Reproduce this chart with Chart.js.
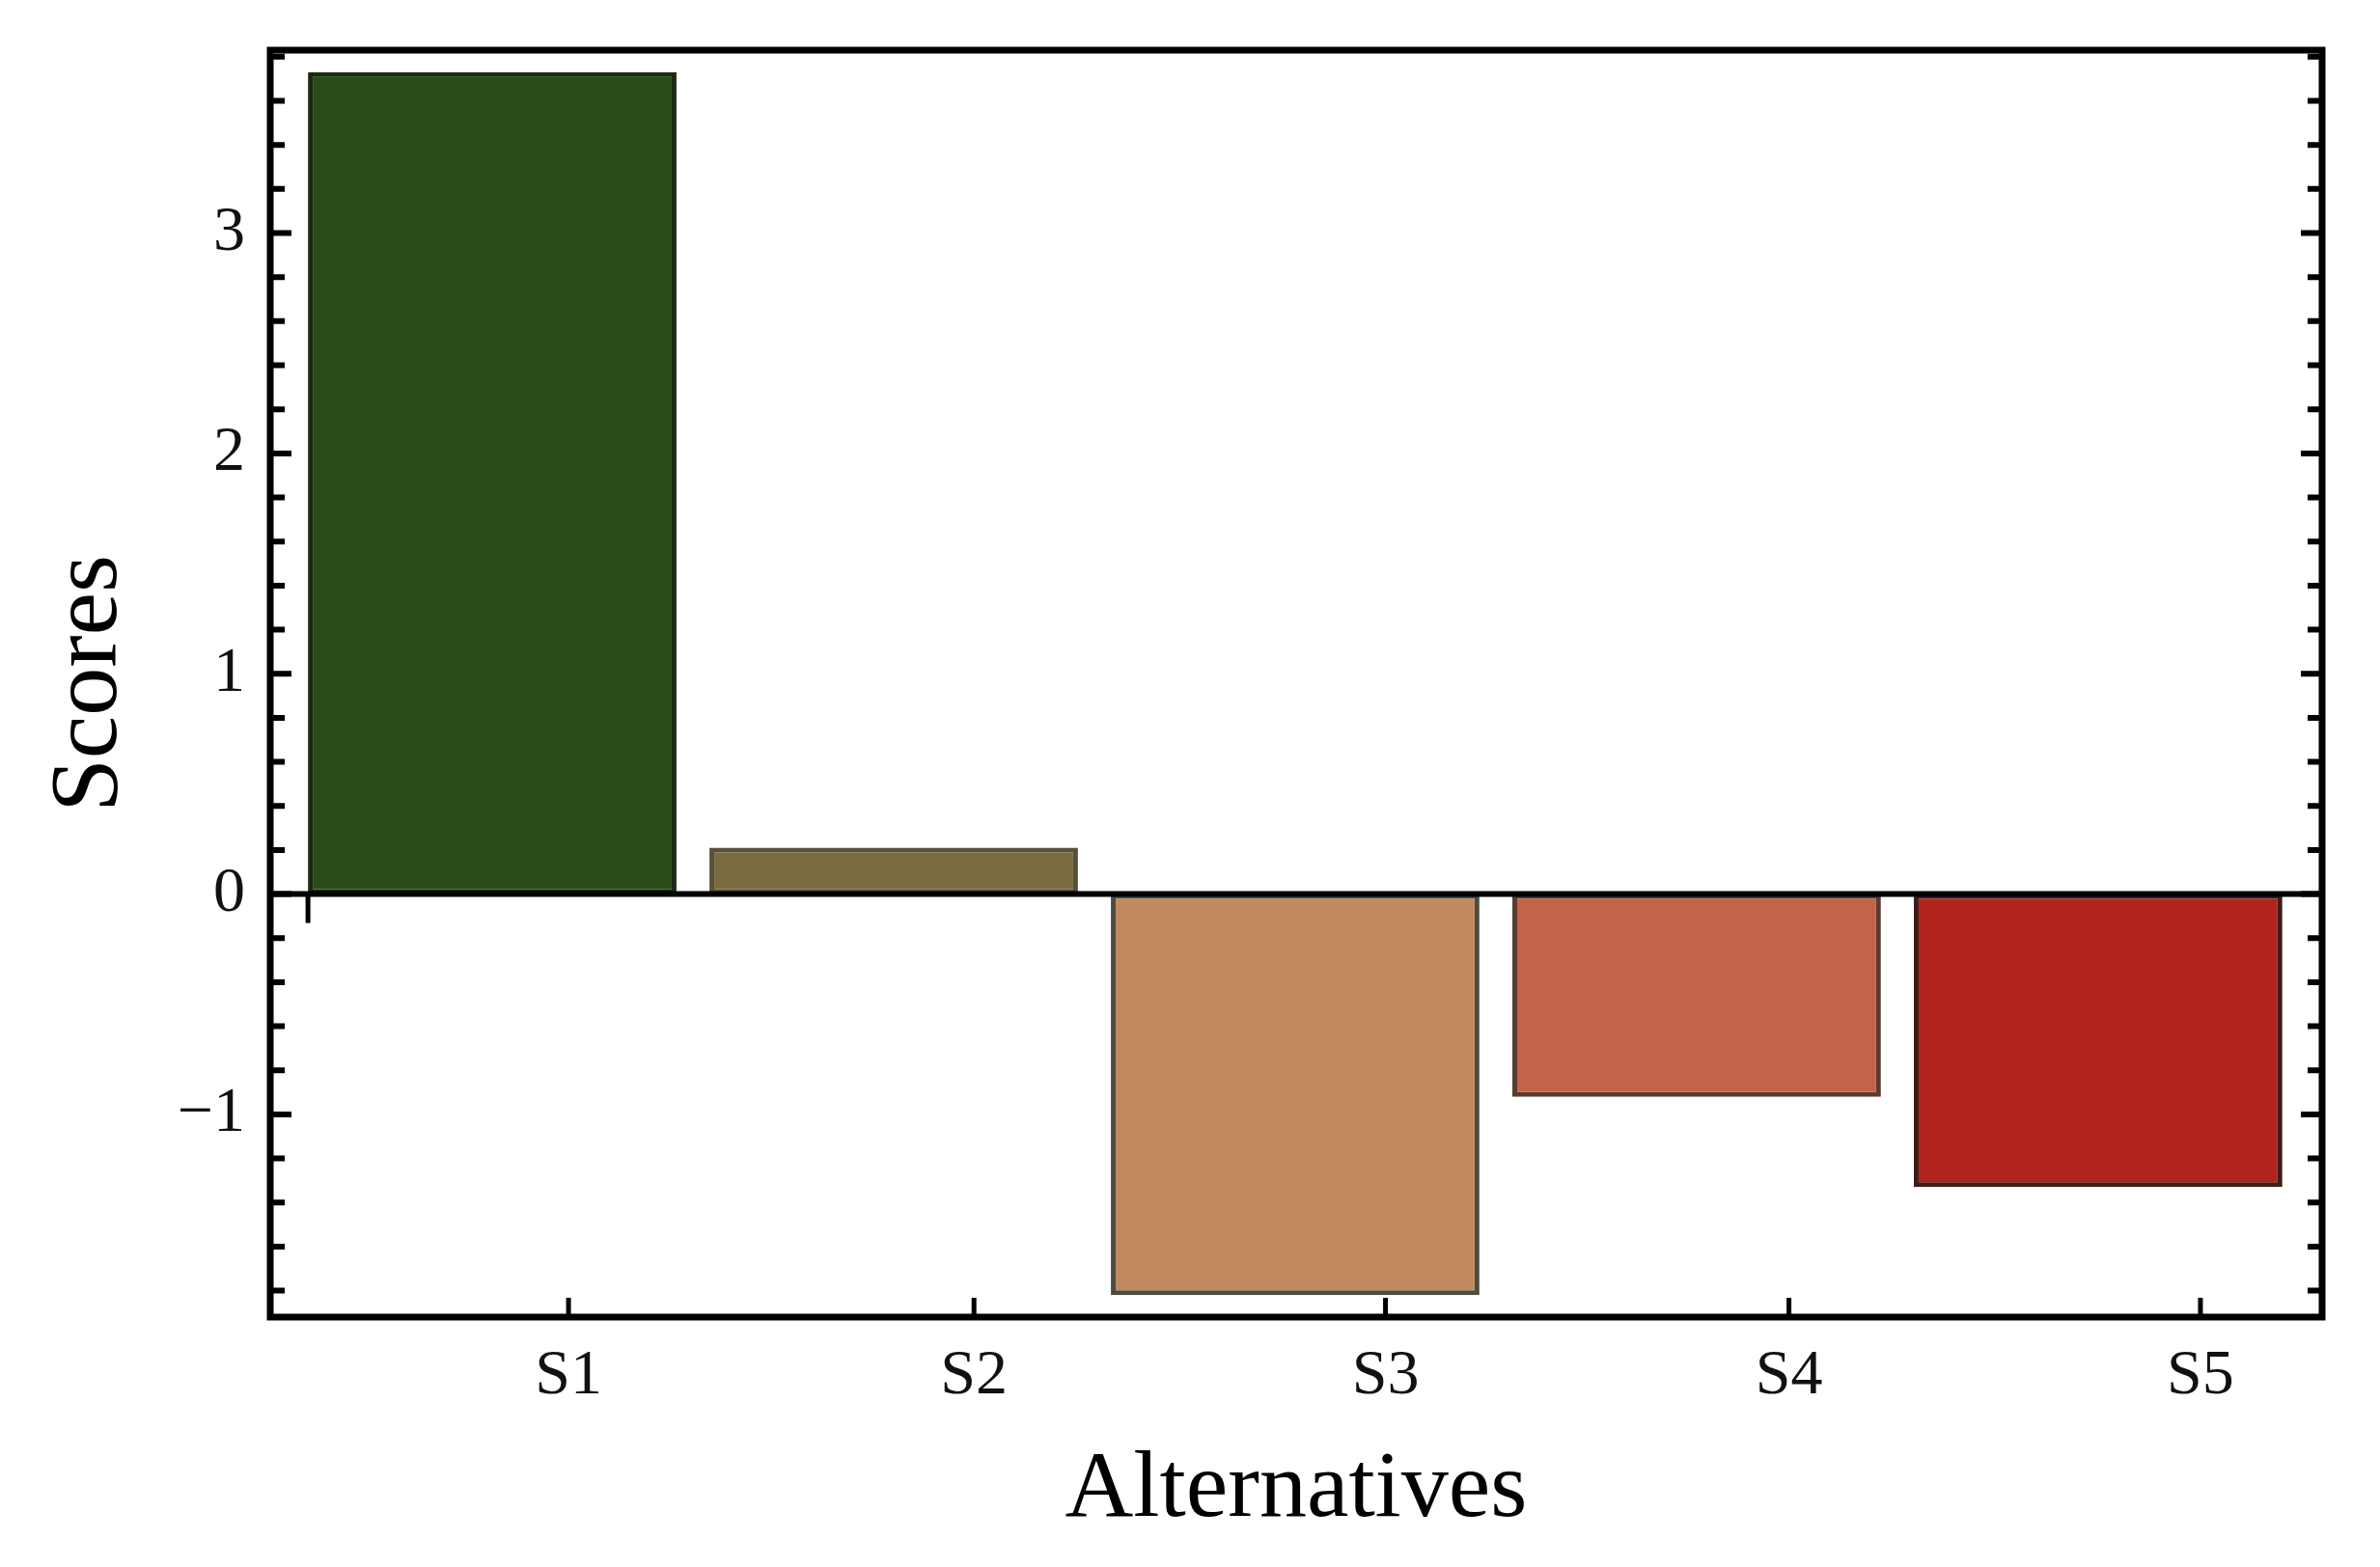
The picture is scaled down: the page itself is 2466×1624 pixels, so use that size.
<!DOCTYPE html>
<html>
<head>
<meta charset="utf-8">
<script src="https://cdn.jsdelivr.net/npm/chart.js@4"></script>
<style>
  html, body { margin: 0; padding: 0; background: #fff; }
  #wrap { width: 2466px; height: 1624px; }
</style>
</head>
<body>
<div id="wrap"><canvas id="chart"></canvas></div>
<script>
const categories = ['S1', 'S2', 'S3', 'S4', 'S5'];
const scores = [3.73, 0.21, -1.82, -0.92, -1.33];
const barPositions = [1, 2, 3, 4, 5];
// tick labels sit a bit right of the bar centres, as in the original
const labelPositions = [1.19, 2.2, 3.225, 4.23, 5.255];
const yTickLabels = [-1, 0, 1, 2, 3];

const fillColors = ['#2a4d18', '#7a6a3f', '#c08a5e', '#c3634a', '#b0231e'];
const edgeColors = ['#1b2a12', '#57513a', '#4d4c42', '#5a3b30', '#3e1c19'];

const SERIF = '"Liberation Serif", "DejaVu Serif", serif';

// frame, inward ticks and the zero line, drawn over the bars
const framePlugin = {
  id: 'frame',
  afterDatasetsDraw(chart) {
    const { ctx, chartArea: a, scales: { x, y } } = chart;
    ctx.save();
    ctx.strokeStyle = '#000';

    // zero line
    const y0 = y.getPixelForValue(0);
    ctx.lineWidth = 6;
    ctx.beginPath();
    ctx.moveTo(a.left, y0);
    ctx.lineTo(a.right, y0);
    ctx.stroke();

    // small tick under the zero line at the left edge of the first bar
    const first = chart.getDatasetMeta(0).data[0];
    const x0 = first.x - first.width / 2;
    ctx.lineWidth = 5;
    ctx.beginPath();
    ctx.moveTo(x0, y0);
    ctx.lineTo(x0, y0 + 30);
    ctx.stroke();

    // y ticks, major and minor, on both sides
    ctx.lineWidth = 6;
    for (let v = Math.ceil(y.min * 5); v <= Math.floor(y.max * 5); v++) {
      const py = y.getPixelForValue(v / 5);
      const len = v % 5 === 0 ? 22 : 15;
      ctx.beginPath();
      ctx.moveTo(a.left, py);
      ctx.lineTo(a.left + len, py);
      ctx.moveTo(a.right, py);
      ctx.lineTo(a.right - len, py);
      ctx.stroke();
    }

    // x ticks at the label positions
    ctx.lineWidth = 5;
    for (const v of labelPositions) {
      const px = x.getPixelForValue(v);
      ctx.beginPath();
      ctx.moveTo(px, a.bottom);
      ctx.lineTo(px, a.bottom - 20);
      ctx.stroke();
    }

    // frame
    ctx.lineWidth = 7;
    ctx.strokeRect(a.left, a.top, a.right - a.left, a.bottom - a.top);
    ctx.restore();
  },
};

new Chart(document.getElementById('chart').getContext('2d'), {
  type: 'bar',
  data: {
    datasets: [
      {
        label: 'Scores',
        data: barPositions.map((p, i) => ({ x: p, y: scores[i] })),
        backgroundColor: fillColors,
        borderColor: edgeColors,
        borderWidth: 5,
        borderSkipped: false,
        categoryPercentage: 1,
        barPercentage: 0.918,
      },
    ],
  },
  options: {
    responsive: true,
    maintainAspectRatio: false,
    animation: false,
    layout: { padding: { left: 0, top: 52, right: 60, bottom: 0 } },
    plugins: {
      legend: { display: false },
      tooltip: { enabled: false },
    },
    scales: {
      x: {
        type: 'linear',
        offset: false,
        min: 0.447,
        max: 5.558,
        grid: { display: false, drawTicks: false, offset: false },
        border: { display: false },
        afterBuildTicks: (scale) => {
          scale.ticks = labelPositions.map((value) => ({ value }));
        },
        afterFit: (scale) => {
          scale.height = 259;
          scale.paddingLeft = 0;
          scale.paddingRight = 0;
        },
        ticks: {
          autoSkip: false,
          maxRotation: 0,
          padding: 22,
          color: '#111',
          font: { family: SERIF, size: 66 },
          callback: (value, index) => categories[index],
        },
        title: {
          display: true,
          text: 'Alternatives',
          color: '#000',
          font: { family: SERIF, size: 98, lineHeight: 1 },
          padding: { top: 0, bottom: 30 },
        },
      },
      y: {
        min: -1.92,
        max: 3.83,
        grid: { display: false, drawTicks: false },
        border: { display: false },
        afterBuildTicks: (scale) => {
          scale.ticks = yTickLabels.map((value) => ({ value }));
        },
        afterFit: (scale) => {
          scale.width = 280;
          scale.paddingTop = 0;
          scale.paddingBottom = 0;
        },
        ticks: {
          padding: 26,
          color: '#111',
          font: { family: SERIF, size: 66 },
          callback: (value) => (value < 0 ? '\u2212' + Math.abs(value) : String(value)),
        },
        title: {
          display: true,
          text: 'Scores',
          color: '#000',
          font: { family: SERIF, size: 100, lineHeight: 1 },
          padding: { top: 44, bottom: 0 },
        },
      },
    },
  },
  plugins: [framePlugin],
});
</script>
</body>
</html>
